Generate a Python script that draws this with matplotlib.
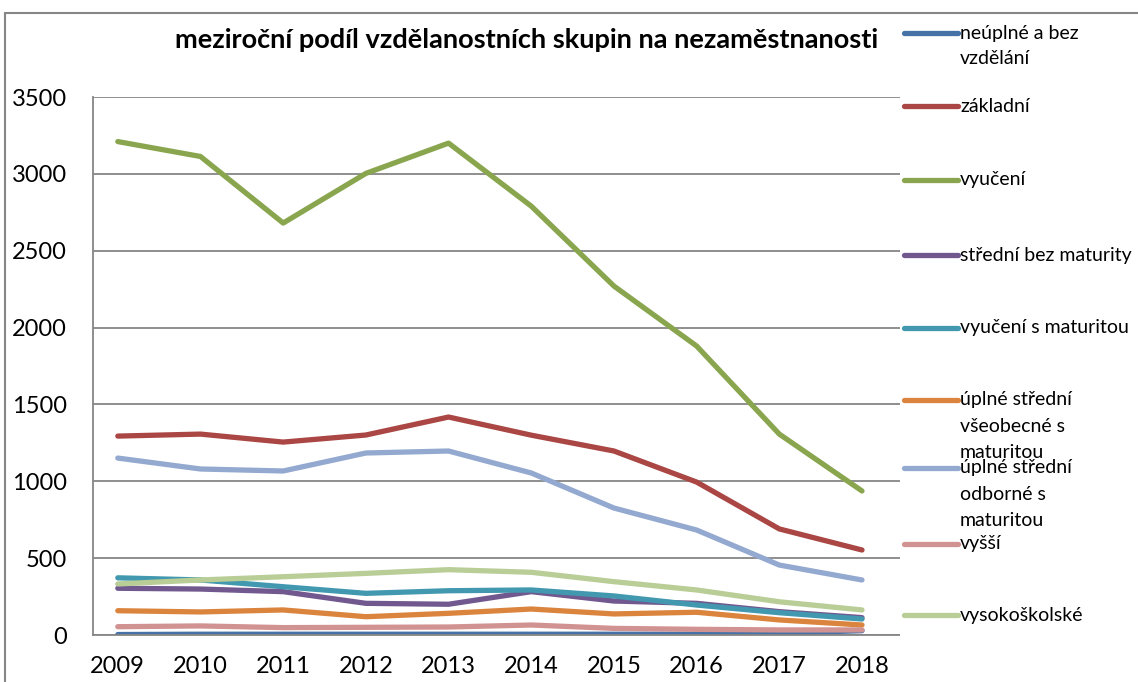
import matplotlib.pyplot as plt
from matplotlib.lines import Line2D
from matplotlib.patches import Rectangle

plt.rcParams['font.family'] = ['Lato', 'DejaVu Sans']

years = [2009, 2010, 2011, 2012, 2013, 2014, 2015, 2016, 2017, 2018]

neuplne = [3, 5, 5, 5, 5, 5, 5, 5, 12, 28]
zakladni = [1294, 1307, 1255, 1301, 1418, 1300, 1197, 995, 690, 553]
vyuceni = [3210, 3113, 2680, 3003, 3200, 2790, 2270, 1880, 1307, 937]
stredni_bez = [304, 299, 282, 206, 200, 282, 221, 206, 152, 113]
vyuceni_mat = [372, 358, 314, 271, 288, 293, 254, 195, 145, 104]
vseobecne = [158, 150, 163, 119, 141, 169, 137, 148, 98, 65]
odborne = [1151, 1080, 1067, 1184, 1197, 1054, 826, 683, 455, 358]
vyssi = [54, 59, 48, 50, 52, 65, 43, 37, 33, 33]
vysokoskolske = [332, 358, 379, 401, 425, 408, 347, 293, 216, 163]

series = [neuplne, zakladni, vyuceni, stredni_bez, vyuceni_mat,
          vseobecne, odborne, vyssi, vysokoskolske]
labels = ["neúplné a bez\nvzdělání", "základní", "vyučení",
          "střední bez maturity", "vyučení s maturitou",
          "úplné střední\nvšeobecné s\nmaturitou",
          "úplné střední\nodborné s\nmaturitou", "vyšší", "vysokoškolské"]
colors = ["#4572A7", "#AA4643", "#89A54E", "#71588F", "#4198AF",
          "#DB843D", "#93A9CF", "#D19392", "#B9CD96"]

W, H = 1138, 682
fig = plt.figure(figsize=(W / 100, H / 100), dpi=100)

# rámeček celého grafu
fig.add_artist(Rectangle((5 / W, -0.1), 1.2, 1.1 - 13 / H, transform=fig.transFigure,
                         fill=False, edgecolor="#868686", linewidth=1.5))

ax = fig.add_axes([93 / W, 1 - 635 / H, (905 - 93) / W, (635 - 97) / H])
for s, c in zip(series, colors):
    ax.plot(years, s, color=c, linewidth=3.8, solid_joinstyle="round",
            solid_capstyle="round")

ax.set_xlim(2008.70, 2018.52)
ax.set_ylim(0, 3500)
ax.set_yticks(range(0, 3501, 500))
ax.set_xticks(years)
ax.grid(axis="y", color="#868686", linewidth=1.3)
ax.set_axisbelow(True)
for side in ["top", "right"]:
    ax.spines[side].set_visible(False)
for side in ["left", "bottom"]:
    ax.spines[side].set_color("#868686")
    ax.spines[side].set_linewidth(1.3)
ax.tick_params(axis="y", length=0, pad=19, labelsize=17)
ax.tick_params(axis="x", length=0, pad=15, labelsize=17)

fig.text(527 / W, 1 - 40 / H, "meziroční podíl vzdělanostních skupin na nezaměstnanosti",
         ha="center", va="center", fontsize=19.5, fontweight="bold")

# legenda vpravo
fig.add_artist(Rectangle((900 / W, 20 / H), 240 / W, 1 - 35 / H, transform=fig.transFigure,
                         facecolor="white", edgecolor="none", zorder=3))
leg_y = [33, 106, 180, 255, 328, 400, 468, 544, 615]
for y, lab, c in zip(leg_y, labels, colors):
    fig.add_artist(Line2D([904 / W, 958 / W], [1 - y / H, 1 - y / H], transform=fig.transFigure,
                          color=c, linewidth=3.8, solid_capstyle="round", zorder=4))
    for i, line in enumerate(lab.split("\n")):
        fig.text(960 / W, 1 - (y + i * 26) / H, line, ha="left", va="center",
                 fontsize=14, zorder=5)

fig.savefig("out.png", dpi=100)
